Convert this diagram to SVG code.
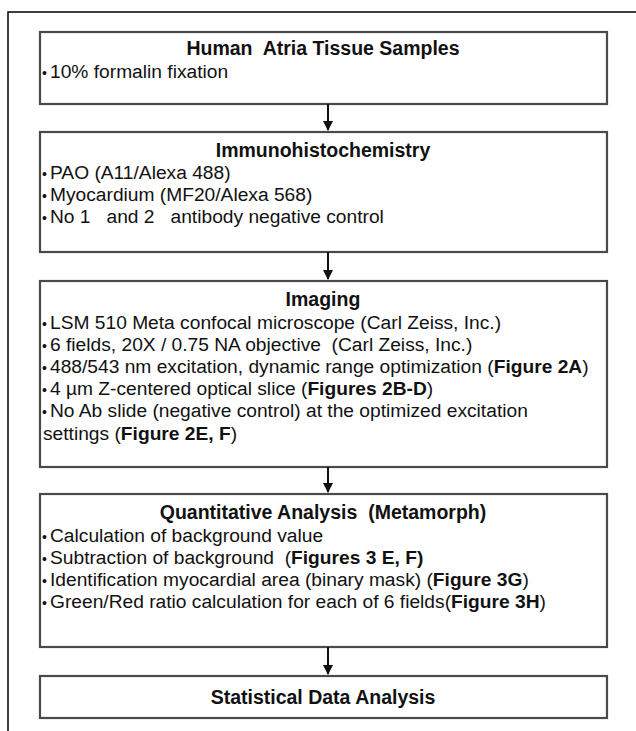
<svg xmlns="http://www.w3.org/2000/svg" width="636" height="731" viewBox="0 0 636 731">
<style>
.box{fill:#fff;stroke:#4a4a4a;stroke-width:2.2}
.t{font-family:"Liberation Sans",Arial,sans-serif;font-size:19.2px;fill:#111;white-space:pre}
.h{font-weight:bold;text-anchor:middle;font-size:19.5px}
.b{font-weight:bold}
.d{font-size:14px}
.con{stroke:#111;stroke-width:2;fill:none}
</style>
<defs>
<marker id="ah" viewBox="0 0 10 10" refX="9" refY="5" markerWidth="5" markerHeight="5" orient="auto" markerUnits="strokeWidth">
<path d="M0,0 L10,5 L0,10 z" fill="#111"/>
</marker>
</defs>
<rect width="636" height="731" fill="#fff"/>
<path d="M8,731 V12 H636" fill="none" stroke="#000" stroke-width="1.5"/>
<g id="n1">
<rect class="box" x="40" y="32" width="567" height="72"/>
<text class="t h" x="323" y="55">Human  Atria Tissue Samples</text>
<text class="t" x="42" y="78"><tspan class="d">•</tspan><tspan x="50">10% formalin fixation</tspan></text>
</g>
<g id="n2">
<rect class="box" x="40" y="132" width="567" height="120"/>
<text class="t h" x="323" y="157">Immunohistochemistry</text>
<text class="t" x="42" y="179"><tspan class="d">•</tspan><tspan x="50">PAO (A11/Alexa 488)</tspan></text>
<text class="t" x="42" y="201"><tspan class="d">•</tspan><tspan x="50">Myocardium (MF20/Alexa 568)</tspan></text>
<text class="t" x="42" y="223"><tspan class="d">•</tspan><tspan x="50">No 1   and 2   antibody negative control</tspan></text>
</g>
<g id="n3">
<rect class="box" x="40" y="281" width="567" height="186"/>
<text class="t h" x="323" y="306">Imaging</text>
<text class="t" x="42" y="329"><tspan class="d">•</tspan><tspan x="50">LSM 510 Meta confocal microscope (Carl Zeiss, Inc.)</tspan></text>
<text class="t" x="42" y="351"><tspan class="d">•</tspan><tspan x="50">6 fields, 20X / 0.75 NA objective  (Carl Zeiss, Inc.)</tspan></text>
<text class="t" x="42" y="373"><tspan class="d">•</tspan><tspan x="50">488/543 nm excitation, dynamic range optimization (<tspan class="b">Figure 2A</tspan>)</tspan></text>
<text class="t" x="42" y="395"><tspan class="d">•</tspan><tspan x="50">4 µm Z-centered optical slice (<tspan class="b">Figures 2B-D</tspan>)</tspan></text>
<text class="t" x="42" y="417"><tspan class="d">•</tspan><tspan x="50">No Ab slide (negative control) at the optimized excitation</tspan></text>
<text class="t" x="43" y="440">settings (<tspan class="b">Figure 2E, F</tspan>)</text>
</g>
<g id="n4">
<rect class="box" x="40" y="494" width="567" height="153"/>
<text class="t h" x="323" y="519">Quantitative Analysis  (Metamorph)</text>
<text class="t" x="42" y="542"><tspan class="d">•</tspan><tspan x="50">Calculation of background value</tspan></text>
<text class="t" x="42" y="564"><tspan class="d">•</tspan><tspan x="50">Subtraction of background  (<tspan class="b">Figures 3 E, F)</tspan></tspan></text>
<text class="t" x="42" y="586"><tspan class="d">•</tspan><tspan x="50">Identification myocardial area (binary mask) (<tspan class="b">Figure 3G</tspan>)</tspan></text>
<text class="t" x="42" y="608"><tspan class="d">•</tspan><tspan x="50">Green/Red ratio calculation for each of 6 fields(<tspan class="b">Figure 3H</tspan>)</tspan></text>
</g>
<g id="n5">
<rect class="box" x="40" y="676" width="567" height="42"/>
<text class="t h" x="323" y="704">Statistical Data Analysis</text>
</g>
<g id="connectors">
<line class="con" x1="328" y1="104" x2="328" y2="130" marker-end="url(#ah)"/>
<line class="con" x1="328" y1="252" x2="328" y2="279" marker-end="url(#ah)"/>
<line class="con" x1="328" y1="467" x2="328" y2="492" marker-end="url(#ah)"/>
<line class="con" x1="328" y1="647" x2="328" y2="674" marker-end="url(#ah)"/>
</g>
</svg>
